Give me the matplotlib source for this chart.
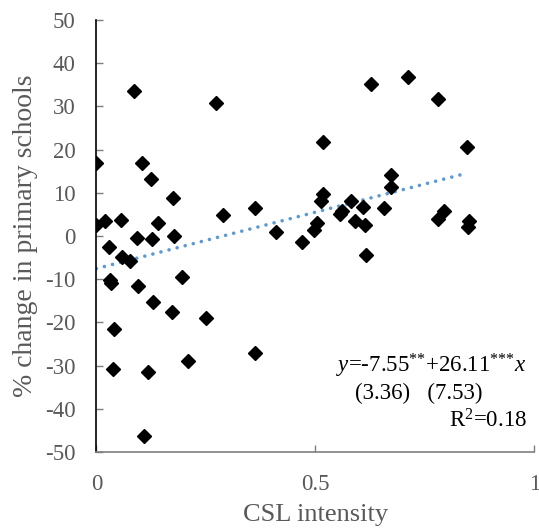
import matplotlib
matplotlib.use('Agg')
import matplotlib.pyplot as plt
import numpy as np

# CSL intensity vs % change in primary schools
csl = [0.0, 0.0, 0.02, 0.028, 0.056, 0.058, 0.078, 0.087, 0.094, 0.104,
       0.125, 0.127, 0.141, 0.176, 0.178, 0.273, 0.29, 0.363,
       0.411, 0.469, 0.498, 0.503, 0.517, 0.517, 0.512, 0.556, 0.562,
       0.581, 0.591, 0.608, 0.613, 0.616, 0.628, 0.657, 0.673, 0.673,
       0.711, 0.779, 0.780, 0.793, 0.846, 0.851, 0.849,
       0.031, 0.033, 0.04, 0.037, 0.096, 0.108, 0.117, 0.13, 0.172,
       0.195, 0.21, 0.25, 0.363]
pct_change = [16.9, 2.5, 3.5, -2.5, 3.7, -4.8, -5.8, 33.5, -0.5, 16.8,
              13.2, -0.6, 2.9, 8.8, 0.1, 30.7, 4.9, 6.4,
              0.9, -1.3, 1.5, 2.9, 21.7, 9.8, 8.0, 5.0, 5.7,
              8.1, 3.5, 6.7, 2.5, -4.4, 35.1, 6.5, 14.1, 11.4,
              36.9, 31.8, 3.9, 5.7, 20.6, 3.5, 2.1,
              -10.1, -10.8, -21.6, -30.9, -11.5, -46.3, -31.6, -15.3, -17.6,
              -9.5, -29.0, -18.9, -27.1]

intercept = -7.55
slope = 26.11
trend_x = [0.0, 0.842]

plt.rcParams['font.family'] = ['Liberation Serif', 'DejaVu Serif']
plt.rcParams['mathtext.fontset'] = 'custom'
plt.rcParams['mathtext.rm'] = 'Liberation Serif'
plt.rcParams['mathtext.it'] = 'Liberation Serif:italic'
plt.rcParams['axes.unicode_minus'] = False

grey = '#595959'
fig = plt.figure(figsize=(5.39, 5.29), dpi=100)
ax = fig.add_axes([0.1787, 0.1456, 0.9913 - 0.1787, 0.9622 - 0.1456])

ax.plot(csl, pct_change, linestyle='none', marker='D', markersize=6.8,
        color='black', zorder=3)
tx = np.array(trend_x)
ax.plot(tx, intercept + slope * tx, color='#5B9BD5', linewidth=2.6,
        linestyle=(0, (0.01, 2.3)), dash_capstyle='round', zorder=2)

ax.set_xlim(0, 1)
ax.set_ylim(-50, 50)
ax.set_xticks([0, 0.5, 1])
ax.set_xticklabels(['0', '0.5', '1'])
ax.set_yticks(np.arange(-50, 51, 10))

for s in ['top', 'right']:
    ax.spines[s].set_visible(False)
ax.spines['left'].set_color('black')
ax.spines['bottom'].set_color('#7f7f7f')
ax.spines['left'].set_linewidth(1.2)
ax.spines['bottom'].set_linewidth(1.2)
ax.tick_params(axis='both', direction='in', length=5, width=1,
               labelsize=16.5, labelcolor=grey, color='#7f7f7f')
ax.tick_params(axis='x', pad=15.5)
ax.tick_params(axis='y', pad=15)

ax.set_xlabel('CSL intensity', fontsize=19, color=grey, labelpad=7)
ax.set_ylabel('% change in primary schools', fontsize=20, color=grey, labelpad=5)

ax.text(0.983, 0.185, r'$\mathit{y}$=-7.55$^{\text{**}}$+26.11$^{\text{***}}$$\mathit{x}$',
        transform=ax.transAxes, ha='right', va='baseline', fontsize=16.5)
ax.text(0.737, 0.122, '(3.36)   (7.53)', transform=ax.transAxes,
        ha='center', va='baseline', fontsize=16.5)
ax.text(0.983, 0.057, r'R$^2$=0.18', transform=ax.transAxes,
        ha='right', va='baseline', fontsize=16.5)

fig.savefig('out.png', dpi=100)
